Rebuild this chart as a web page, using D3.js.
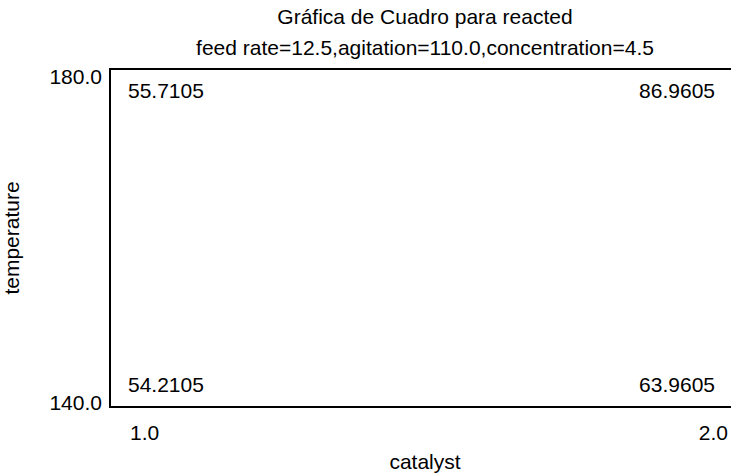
<!DOCTYPE html>
<html>
<head>
<meta charset="utf-8">
<script src="https://cdn.jsdelivr.net/npm/d3@7"></script>
<style>
  body { margin: 0; background: #fff; }
  text { font-family: "Liberation Sans", Arial, sans-serif; fill: #000; }
</style>
</head>
<body>
<svg id="chart" width="731" height="476"></svg>
<script>
// chart values
const title = "Gráfica de Cuadro para reacted";
const subtitle = "feed rate=12.5,agitation=110.0,concentration=4.5";
const xLabel = "catalyst";
const yLabel = "temperature";
const xDomain = [1.0, 2.0];
const yDomain = [140.0, 180.0];
// corner responses: [catalyst, temperature, value]
const corners = [
	[1.0, 180.0, "55.7105"],
	[2.0, 180.0, "86.9605"],
	[1.0, 140.0, "54.2105"],
	[2.0, 140.0, "63.9605"]
];

const size = { w: 731, h: 476 };
const box = { left: 110, top: 69, right: 733, bottom: 407 };
const fs = 21;

let svg = d3.select("#chart");

let xScale = d3.scaleLinear().domain(xDomain).range([box.left, box.right]);
let yScale = d3.scaleLinear().domain(yDomain).range([box.bottom, box.top]);

// box (open on the right, cut by the window edge)
svg.append("rect")
	.attr("x", xScale(xDomain[0]))
	.attr("y", yScale(yDomain[1]))
	.attr("width", xScale(xDomain[1]) - xScale(xDomain[0]))
	.attr("height", yScale(yDomain[0]) - yScale(yDomain[1]))
	.attr("fill", "none")
	.attr("stroke", "#000")
	.attr("stroke-width", 2);

// titles
let cx = 425;
svg.append("text")
	.attr("x", cx).attr("y", 24)
	.attr("text-anchor", "middle")
	.attr("font-size", fs)
	.text(title);
svg.append("text")
	.attr("x", cx).attr("y", 55)
	.attr("text-anchor", "middle")
	.attr("font-size", fs)
	.text(subtitle);

// x tick labels
svg.selectAll(".xtick")
	.data(xDomain)
	.join("text")
	.classed("xtick", true)
	.attr("x", (d, i) => (i === 0 ? xScale(d) + 20 : xScale(d) - 5))
	.attr("y", 440)
	.attr("text-anchor", (d, i) => (i === 0 ? "start" : "end"))
	.attr("font-size", fs)
	.text((d) => d3.format(".1f")(d));

// y tick labels
svg.selectAll(".ytick")
	.data(yDomain)
	.join("text")
	.classed("ytick", true)
	.attr("x", box.left - 8)
	.attr("y", (d, i) => (i === 0 ? yScale(d) + 3 : yScale(d) + 15))
	.attr("text-anchor", "end")
	.attr("font-size", fs)
	.text((d) => d3.format(".1f")(d));

// axis titles
svg.append("text")
	.attr("x", cx).attr("y", 469)
	.attr("text-anchor", "middle")
	.attr("font-size", fs)
	.text(xLabel);
svg.append("text")
	.attr("transform", `translate(19, ${(box.top + box.bottom) / 2}) rotate(-90)`)
	.attr("text-anchor", "middle")
	.attr("font-size", fs)
	.text(yLabel);

// corner values
svg.selectAll(".corner")
	.data(corners)
	.join("text")
	.classed("corner", true)
	.attr("x", (d) => (d[0] === xDomain[0] ? xScale(d[0]) + 18 : xScale(d[0]) - 18))
	.attr("y", (d) => (d[1] === yDomain[1] ? yScale(d[1]) + 29 : yScale(d[1]) - 15))
	.attr("text-anchor", (d) => (d[0] === xDomain[0] ? "start" : "end"))
	.attr("font-size", fs)
	.text((d) => d[2]);
</script>
</body>
</html>
